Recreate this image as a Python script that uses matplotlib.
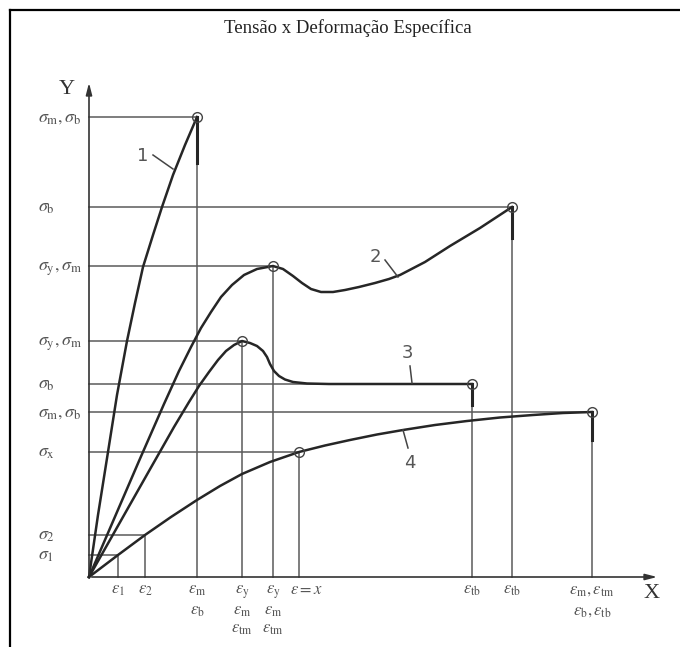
import matplotlib
matplotlib.use("Agg")
import matplotlib.pyplot as plt
from matplotlib.lines import Line2D

plt.rcParams['mathtext.fontset'] = 'stix'

# curvas (unidades arbitrarias: deformacao x tensao)
c1_x = [0, 9, 19, 28, 38, 46, 54, 64, 73, 84, 96, 108]
c1_y = [0, 62, 125, 182, 236, 274, 310, 342, 370, 402, 432, 460]

c2_x = [0, 25, 50, 75, 90, 102, 112, 122, 132, 143, 155, 168, 184,
        194, 204, 213, 222, 232, 244, 256, 270, 286, 300, 311, 336, 361, 391, 423]
c2_y = [0, 58, 116, 173, 206, 230, 249, 265, 280, 292, 302, 308, 311,
        308, 301, 294, 288, 285, 285, 287, 290, 294, 298, 302, 315, 331, 349, 370]

c3_x = [0, 30, 60, 85, 100, 110, 120, 129, 137, 145, 153, 161, 168, 174, 178,
        181, 185, 190, 196, 204, 218, 240, 383]
c3_y = [0, 53, 106, 150, 175, 191, 205, 217, 226, 232, 236, 234, 231, 226, 220,
        213, 206, 201, 197.5, 195, 193.5, 193, 193]

c4_x = [0, 29, 56, 82, 108, 131, 153, 181, 210, 236, 261, 288, 314, 346, 378, 411, 444, 474, 503]
c4_y = [0, 22, 42, 60, 77, 91, 103, 115, 125, 131.5, 137, 142.5, 147, 152, 156, 159.5, 162, 164, 165]

# pontos marcados (circulos) e linhas de chamada
pts_x = [108, 423, 184, 153, 383, 210, 503]
pts_y = [460, 370, 311, 236, 193, 125, 165]
eps_small = [29, 56]
sig_small = [22, 42]

# rotulos do eixo Y
ylab_vals = [460, 370, 311, 236, 193, 165, 125, 42, 22]
ylab_txt = [r'$\sigma_{\mathrm{m}}, \sigma_{\mathrm{b}}$', r'$\sigma_{\mathrm{b}}$',
            r'$\sigma_{\mathrm{y}}, \sigma_{\mathrm{m}}$', r'$\sigma_{\mathrm{y}}, \sigma_{\mathrm{m}}$',
            r'$\sigma_{\mathrm{b}}$', r'$\sigma_{\mathrm{m}}, \sigma_{\mathrm{b}}$',
            r'$\sigma_{\mathrm{x}}$', r'$\sigma_2$', r'$\sigma_1$']

# rotulos do eixo X (ate 3 linhas)
xlab_vals = [29, 56, 108, 153, 184, 383, 423, 503]
xlab_txt = [
    [r'$\varepsilon_1$'],
    [r'$\varepsilon_2$'],
    [r'$\varepsilon_{\mathrm{m}}$', r'$\varepsilon_{\mathrm{b}}$'],
    [r'$\varepsilon_{\mathrm{y}}$', r'$\varepsilon_{\mathrm{m}}$', r'$\varepsilon_{\mathrm{tm}}$'],
    [r'$\varepsilon_{\mathrm{y}}$', r'$\varepsilon_{\mathrm{m}}$', r'$\varepsilon_{\mathrm{tm}}$'],
    [r'$\varepsilon_{\mathrm{tb}}$'],
    [r'$\varepsilon_{\mathrm{tb}}$'],
    [r'$\varepsilon_{\mathrm{m}}, \varepsilon_{\mathrm{tm}}$', r'$\varepsilon_{\mathrm{b}}, \varepsilon_{\mathrm{tb}}$'],
]

# numeros das curvas: posicao do texto e linha de chamada
num_txt = ['1', '2', '3', '4']
num_pos = [(54, 421), (286, 320), (318, 224), (321, 114)]
num_lead = [((64, 422), (84, 408)), ((296, 317), (309, 300)),
            ((321, 211), (323, 194)), ((314, 147), (319, 129))]

# tracos grossos nas rupturas
stub_x = [108, 423, 383, 503]
stub_top = [460, 370, 193, 165]
stub_bot = [414, 339, 172, 137]

grid_c = '#5a5a5a'
curve_c = '#262626'
text_c = '#555555'

fig = plt.figure(figsize=(6.8, 6.47), dpi=100)
ax = fig.add_axes([0, 0, 1, 1])
ax.set_xlim(-89, 591)
ax.set_ylim(-70, 577)
ax.axis('off')

# moldura
fig.add_artist(Line2D([10 / 680, 1.0], [1 - 10 / 647, 1 - 10 / 647], color='black', lw=1.6))
fig.add_artist(Line2D([10 / 680, 10 / 680], [0, 1 - 10 / 647], color='black', lw=1.6))
fig.text(348 / 680, 1 - 28 / 647, 'Tensão x Deformação Específica', ha='center', va='center',
         fontsize=13.5, family='Liberation Serif', color='#222222')

# eixos com setas
ax.annotate('', xy=(0, 497), xytext=(0, 0),
            arrowprops=dict(arrowstyle='-|>,head_length=0.7,head_width=0.18', color='#333333', lw=1.2))
ax.annotate('', xy=(571, 0), xytext=(0, 0),
            arrowprops=dict(arrowstyle='-|>,head_length=0.7,head_width=0.18', color='#333333', lw=1.2))
ax.text(-22, 487, 'Y', fontsize=16, family='Liberation Serif', color='#333333', ha='center', va='center')
ax.text(563, -16, 'X', fontsize=16, family='Liberation Serif', color='#333333', ha='center', va='center')

# linhas de chamada horizontais e verticais
for px, py in zip(pts_x, pts_y):
    ax.plot([0, px], [py, py], color=grid_c, lw=1.1)
    ax.plot([px, px], [0, py], color=grid_c, lw=1.1)
for ex, sy in zip(eps_small, sig_small):
    ax.plot([0, ex], [sy, sy], color=grid_c, lw=1.1)
    ax.plot([ex, ex], [0, sy], color=grid_c, lw=1.1)

# curvas
for cx, cy in [(c1_x, c1_y), (c2_x, c2_y), (c3_x, c3_y), (c4_x, c4_y)]:
    ax.plot(cx, cy, color=curve_c, lw=1.8, solid_joinstyle='round')

for sx, st, sb in zip(stub_x, stub_top, stub_bot):
    ax.plot([sx, sx], [sb, st], color=curve_c, lw=2.2)

ax.plot(pts_x, pts_y, 'o', ms=7, mfc='none', mec='#444444', mew=1.0)

# numeros das curvas
for t, (tx, ty), (a, b) in zip(num_txt, num_pos, num_lead):
    ax.text(tx, ty, t, fontsize=13, color=text_c, ha='center', va='center')
    ax.plot([a[0], b[0]], [a[1], b[1]], color='#444444', lw=1.1)

# rotulos eixo Y
for v, t in zip(ylab_vals, ylab_txt):
    ax.text(-51, v - 5, t, fontsize=13, color=text_c, ha='left', va='baseline')

# rotulos eixo X
rows = [-17, -38, -56]
for v, lines in zip(xlab_vals, xlab_txt):
    for i, t in enumerate(lines):
        ax.text(v, rows[i], t, fontsize=12, color=text_c, ha='center', va='baseline')
ax.text(201, -17, r'$\varepsilon = x$', fontsize=12, color=text_c, ha='left', va='baseline')

fig.savefig('out.png', dpi=100)
